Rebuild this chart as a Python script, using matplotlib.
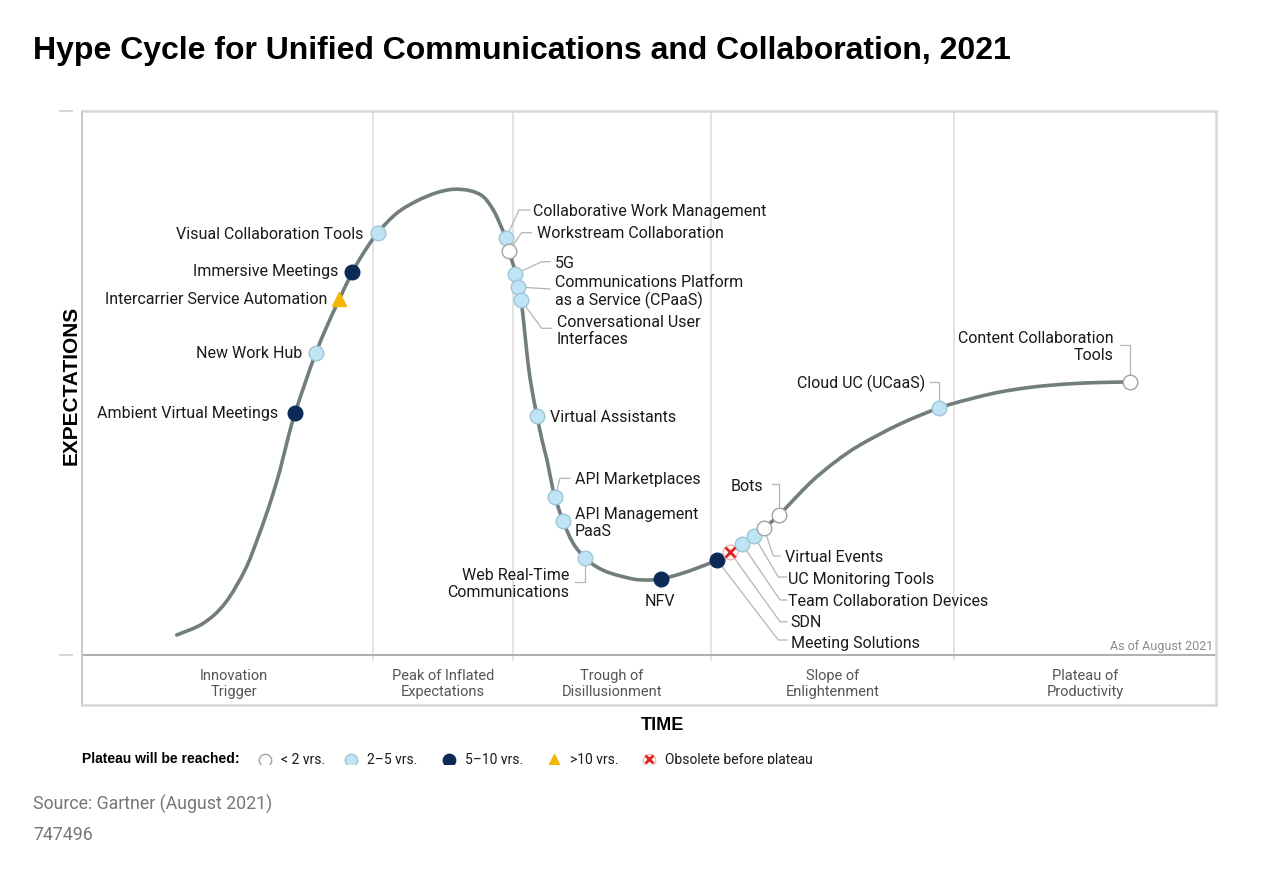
import numpy as np
import matplotlib.pyplot as plt
from matplotlib.path import Path
from matplotlib.patches import PathPatch

# hype curve (time, expectations)
curve_t = [94.7, 121.3, 143, 163, 176.3, 188, 198, 206.3, 213, 223, 233.7, 244.7, 257,
           269.7, 281.3, 295.7, 314.7, 334.7, 354.7, 371.3, 388, 401.3, 411.3, 418, 423.7,
           427, 431, 434, 436, 439, 442, 446, 450, 455, 460, 465, 469, 473, 481, 491, 503,
           515, 528, 551, 565, 579, 598, 618, 635, 648, 660, 672, 682, 697, 728, 753, 778,
           818, 857, 888, 918, 951, 985, 1018, 1048]
curve_e = [20, 31.7, 51.7, 85, 118.3, 151.7, 185, 218.3, 241.7, 271.7, 301.7, 328.3, 355,
           381.7, 401.7, 422.3, 441.7, 454, 462.3, 465.7, 464.3, 458.3, 445, 431, 416.7,
           404, 391, 381, 368, 355, 330, 292, 265, 239, 215, 195, 175, 158, 134, 112, 97,
           88, 82, 76, 75, 76, 81, 88, 95, 103, 111, 119, 127, 140, 172, 193, 210,
           231, 247, 256, 263, 268, 271, 272.5, 273]

tech_names = ["Ambient Virtual Meetings", "New Work Hub", "Intercarrier Service Automation",
              "Immersive Meetings", "Visual Collaboration Tools", "Collaborative Work Management",
              "Workstream Collaboration", "5G", "Communications Platform\nas a Service (CPaaS)",
              "Conversational User\nInterfaces", "Virtual Assistants", "API Marketplaces",
              "API Management\nPaaS", "Web Real-Time\nCommunications", "NFV", "Meeting Solutions",
              "SDN", "Team Collaboration Devices", "UC Monitoring Tools", "Virtual Events",
              "Bots", "Cloud UC (UCaaS)", "Content Collaboration\nTools"]
tech_t = [213, 234, 257, 270, 296, 424, 427, 433, 436, 439, 455, 473, 481, 503, 579,
          635, 648, 660, 672, 682, 697, 857, 1048]
tech_e = [242, 302, 356, 383, 422, 417, 404, 381, 368, 355, 239, 158, 134, 97, 76,
          95, 103, 111, 119, 127, 140, 247, 273]
# years to plateau: lt2, 2to5, 5to10, gt10, obsolete
tech_years = ["5to10", "2to5", "gt10", "5to10", "2to5", "2to5", "lt2", "2to5", "2to5",
              "2to5", "2to5", "2to5", "2to5", "2to5", "5to10", "5to10", "obsolete",
              "2to5", "2to5", "lt2", "lt2", "2to5", "lt2"]

phases = ["Innovation\nTrigger", "Peak of Inflated\nExpectations", "Trough of\nDisillusionment",
          "Slope of\nEnlightenment", "Plateau of\nProductivity"]
phase_bounds = [0, 291, 431, 629, 872, 1134]

legend_keys = ["lt2", "2to5", "5to10", "gt10", "obsolete"]
legend_labels = ["< 2 yrs.", "2\u20135 yrs.", "5\u201310 yrs.", ">10 yrs.", "Obsolete before plateau"]

# label placement: (text x, text y, ha, leader path)
label_layout = [
    (196, 242, "right", None),
    (220, 302, "right", None),
    (245, 356, "right", None),
    (256, 384, "right", None),
    (281, 421, "right", None),
    (451, 444, "left", [(437, 445), (448, 445)]),
    (455, 422, "left", [(439.7, 422.3), (449.7, 422.3)]),
    (473, 392, "left", [(459.7, 393.3), (468, 393.3)]),
    (473, 363, "left", [(468, 366)]),
    (475, 324, "left", [(459.7, 326.7), (469.7, 326.7)]),
    (468, 238, "left", None),
    (493, 176, "left", [(478, 176.7), (488, 176.7)]),
    (493, 132, "left", None),
    (487, 71, "right", [(503, 73.3), (493, 73.3)]),
    (578, 54, "center", [(578, 67)]),
    (709, 12, "left", [(696.3, 15), (704.7, 15)]),
    (708, 33, "left", [(698, 33.3), (704.7, 33.3)]),
    (706, 54, "left", [(698, 55), (704.7, 55)]),
    (706, 76, "left", [(696.3, 78), (704.7, 78)]),
    (703, 98, "left", [(691.3, 99), (698, 99)]),
    (681, 169, "right", [(697, 171), (689.7, 171)]),
    (843, 272, "right", [(857, 273.3), (848, 273.3)]),
    (1032, 308, "right", [(1048, 310), (1038, 310)]),
]

marker_style = {
    "lt2": dict(marker="o", mfc="white", mec="#a3a3a3", ms=10.5, mew=1),
    "2to5": dict(marker="o", mfc="#bfe4f3", mec="#9ec6d8", ms=10.5, mew=1),
    "5to10": dict(marker="o", mfc="#0b2a58", mec="#0b2a58", ms=10.5, mew=1),
    "gt10": dict(marker="^", mfc="#f6b700", mec="#f6b700", ms=10, mew=1),
    "obsolete": dict(marker="o", mfc="white", mec="#f2b8b8", ms=10.5, mew=1),
}


def smooth_path(xs, ys):
    # cubic bezier segments through the read points (catmull-rom style)
    pts = np.column_stack([xs, ys]).astype(float)
    verts = [pts[0]]
    codes = [Path.MOVETO]
    for i in range(len(pts) - 1):
        p0 = pts[max(i - 1, 0)]
        p1 = pts[i]
        p2 = pts[i + 1]
        p3 = pts[min(i + 2, len(pts) - 1)]
        verts += [p1 + (p2 - p0) / 6, p2 - (p3 - p1) / 6, p2]
        codes += [Path.CURVE4] * 3
    return Path(verts, codes)


plt.rcParams['font.family'] = ['Roboto', 'DejaVu Sans']

fig = plt.figure(figsize=(12.8, 8.71), dpi=100)
ax = fig.add_axes([82 / 1280, 166 / 871, 1134 / 1280, 594 / 871])
ax.set_xlim(0, 1134)
ax.set_ylim(-50, 544)
ax.set_xticks([])
ax.set_yticks([])
for s in ax.spines.values():
    s.set_color("#d8d8d8")
    s.set_linewidth(1.8)
ax.spines["left"].set_color("#c4c4c4")
ax.spines["left"].set_linewidth(1.3)

# phase dividers and baseline
for b in phase_bounds[1:-1]:
    ax.plot([b, b], [-5, 544], color="#dedede", lw=1.2, zorder=1)
ax.axhline(0, color="#a8a8a8", lw=1.3, zorder=1)
for yy in (544, 0):
    ax.plot([-22, -10], [yy, yy], color="#d0d0d0", lw=1.2, clip_on=False)

for i, name in enumerate(phases):
    xc = (phase_bounds[i] + phase_bounds[i + 1]) / 2
    if i == 0:
        xc = 152
    ax.text(xc, -29, name, ha="center", va="center", fontsize=10.5, color="#555555",
            linespacing=1.25)

ax.text(1131, 9, "As of August 2021", ha="right", va="center", fontsize=9, color="#8c8c8c")

# curve
ax.add_patch(PathPatch(smooth_path(curve_t, curve_e), facecolor="none", edgecolor="#727d7d",
                       lw=2.6, capstyle="round", joinstyle="round", zorder=2))

# technologies
for name, t, e, yrs, lay in zip(tech_names, tech_t, tech_e, tech_years, label_layout):
    tx, ty, ha, path = lay
    if path:
        xs = [t] + [p[0] for p in path]
        ys = [e] + [p[1] for p in path]
        ax.plot(xs, ys, color="#b4b4b4", lw=0.9, zorder=3)
    ax.plot([t], [e], linestyle="none", zorder=4, **marker_style[yrs])
    if yrs == "obsolete":
        ax.plot([t], [e], marker="x", color="#e3231e", ms=7, mew=2, zorder=5)
    ax.text(tx, ty, name, ha=ha, va="center", fontsize=11.5, color="#1a1a1a",
            multialignment=ha if ha != "center" else "center", linespacing=1.1, zorder=5)

# axis titles
ax.text(-11, 270, "EXPECTATIONS", rotation=90, ha="center", va="center", fontsize=15,
        fontweight="bold", family=["Liberation Sans", "DejaVu Sans"], clip_on=False)
ax.text(580, -70, "TIME", ha="center", va="center", fontsize=13, fontweight="bold",
        family=["Liberation Sans", "DejaVu Sans"], clip_on=False)

# legend strip (clipped at its bottom like the source)
lax = fig.add_axes([0, (871 - 764) / 871, 1, 22 / 871])
lax.set_xlim(0, 1280)
lax.set_ylim(764, 742)
lax.axis("off")
lax.text(82, 759, "Plateau will be reached:", ha="left", va="center", fontsize=10,
         fontweight="bold", family=["Liberation Sans", "DejaVu Sans"], clip_on=True)
leg_x = [265, 351, 449, 554, 649]
for x, key, lab in zip(leg_x, legend_keys, legend_labels):
    st = dict(marker_style[key])
    st["ms"] = st["ms"] * 0.85
    lax.plot([x], [760], linestyle="none", clip_on=True, **st)
    if key == "obsolete":
        lax.plot([x], [759], marker="x", color="#e3231e", ms=6, mew=2, clip_on=True)
    lax.text(x + 16, 760, lab, ha="left", va="center", fontsize=10, color="#1a1a1a",
             clip_on=True)

fig.text(33 / 1280, 1 - 59 / 871, "Hype Cycle for Unified Communications and Collaboration, 2021",
         ha="left", va="baseline", fontsize=23, fontweight="bold",
         family=["Liberation Sans", "DejaVu Sans"])
fig.text(33 / 1280, 1 - 810 / 871, "Source: Gartner (August 2021)", ha="left", va="baseline",
         fontsize=12.8, color="#777777")
fig.text(33 / 1280, 1 - 840 / 871, "747496", ha="left", va="baseline", fontsize=12.8,
         color="#777777")

fig.savefig("out.png", dpi=100, facecolor="white")
